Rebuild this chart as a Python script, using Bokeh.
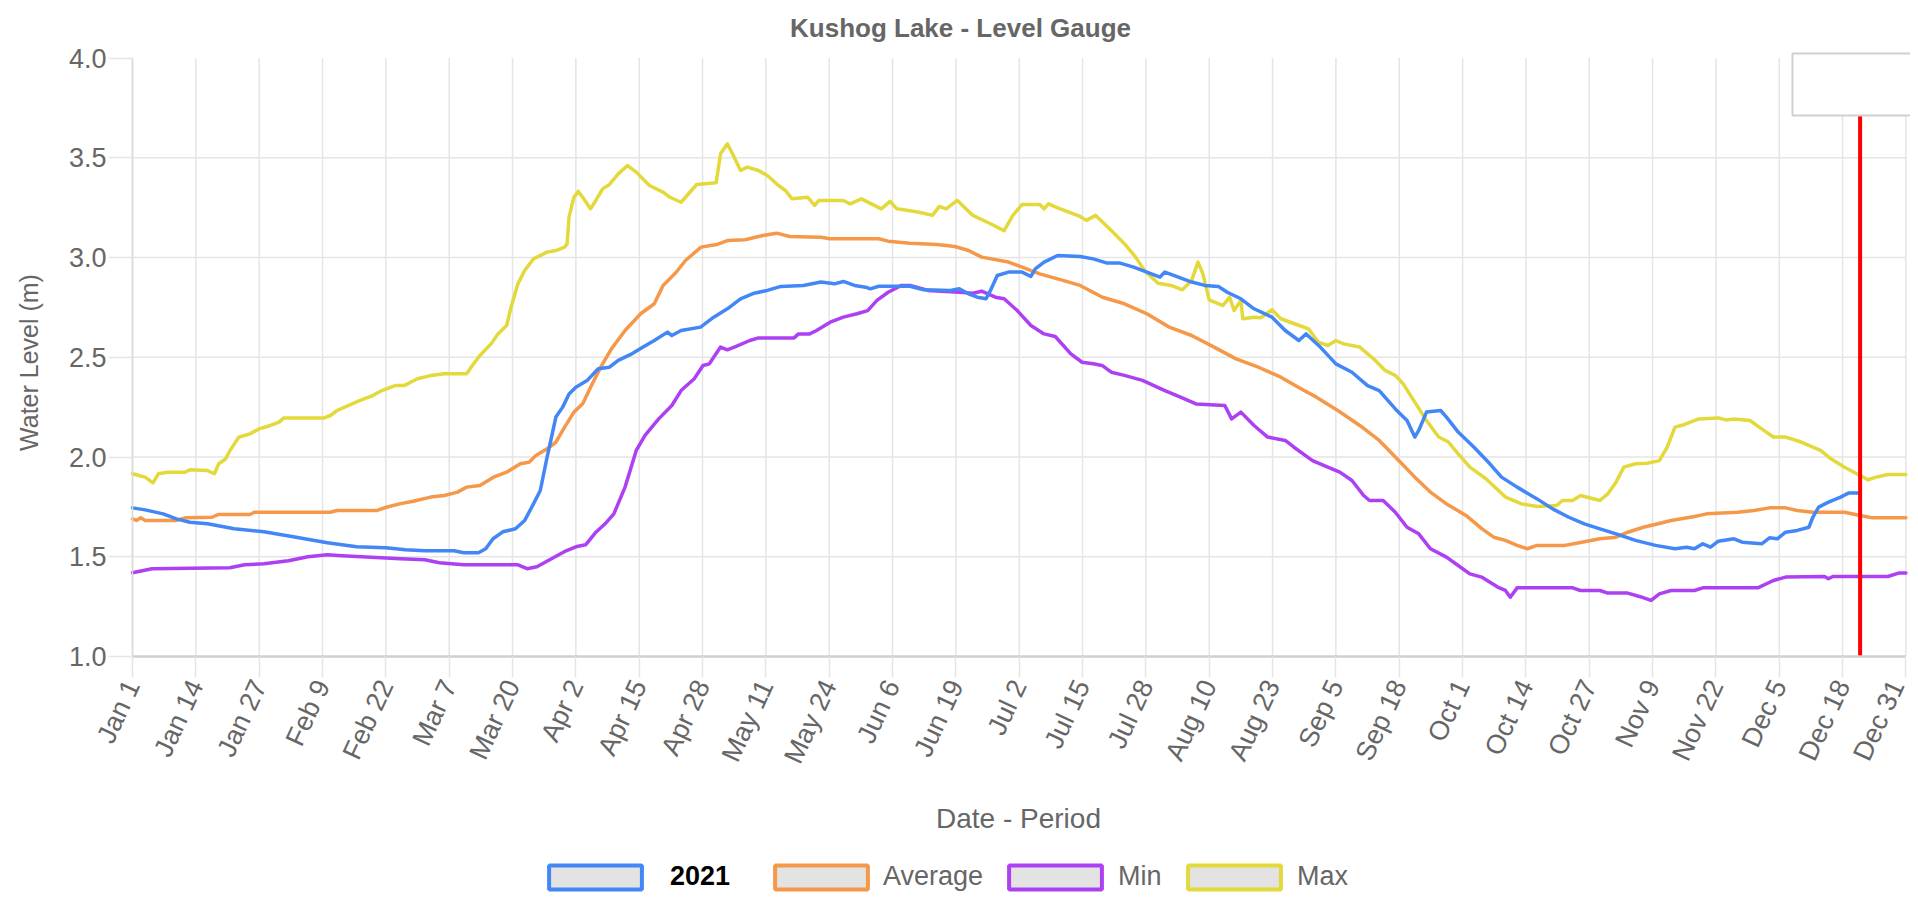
import math
from bokeh.plotting import figure
from bokeh.models import (Range1d, FixedTicker, Label, Legend, LegendItem, LinearAxis,
                          BoxAnnotation, ColumnDataSource, NumeralTickFormatter)
from bokeh.embed import file_html
from bokeh.resources import INLINE

# ---------------- data ----------------
TITLE = "Kushog Lake - Level Gauge"
X_TITLE = "Date - Period"
Y_TITLE = "Water Level (m)"

TICK_DAYS = [0, 13, 26, 39, 52, 65, 78, 91, 104, 117, 130, 143, 156, 169, 182,
             195, 208, 221, 234, 247, 260, 273, 286, 299, 312, 325, 338, 351, 364]
TICK_LABELS = ["Jan 1", "Jan 14", "Jan 27", "Feb 9", "Feb 22", "Mar 7", "Mar 20",
               "Apr 2", "Apr 15", "Apr 28", "May 11", "May 24", "Jun 6", "Jun 19",
               "Jul 2", "Jul 15", "Jul 28", "Aug 10", "Aug 23", "Sep 5", "Sep 18",
               "Oct 1", "Oct 14", "Oct 27", "Nov 9", "Nov 22", "Dec 5", "Dec 18", "Dec 31"]
Y_TICKS = [1.0, 1.5, 2.0, 2.5, 3.0, 3.5, 4.0]

SERIES_NAMES = ["2021", "Average", "Min", "Max"]
SERIES_COLORS = ["#4287f5", "#f5984a", "#ad40f2", "#e3d93b"]

YEAR_DAYS = [0, 2.6, 6.3, 9, 11.8, 15.4, 20.9, 27, 33, 40, 46, 52, 56, 60, 66, 68, 71,
             72.5, 74, 76, 78.6, 80.5, 82.3, 83.7, 85.1, 86, 86.9, 88.3, 89.6, 91, 93.3,
             95.6, 97.9, 99.7, 102.5, 104.8, 107.1, 109.8, 110.7, 112.6, 116.6, 119.3,
             122.1, 124.8, 127.6, 130.3, 133.1, 137.7, 141.3, 144.1, 145.9, 148.2, 150.5,
             151.4, 153.2, 159.6, 162.4, 167.9, 169.7, 171.6, 173.4, 175.2, 176.1, 177.5,
             179.8, 182.6, 184.4, 185.3, 187.1, 189.9, 194.5, 197.2, 199.9, 202.7, 205.5,
             208.2, 210.9, 211.9, 213.7, 217.4, 220.1, 222.9, 224.7, 227.5, 230.2, 233.9,
             236.6, 239.4, 240.9, 243.8, 247, 250.3, 253.5, 255.9, 259.2, 261.6, 263.2,
             264, 265.6, 268.5, 269.7, 272.1, 275.3, 278.6, 281, 284.2, 288.3, 291.5,
             294.8, 298, 301.2, 304.5, 308.5, 312.6, 316.6, 319, 320.6, 322.3, 323.9,
             325.5, 328.7, 330.4, 334.4, 336, 337.6, 339.3, 341.7, 344.1, 344.9, 346.1,
             348.1, 350.6, 352.2, 354.2]
YEAR_VALUES = [1.745, 1.735, 1.715, 1.69, 1.673, 1.665, 1.64, 1.625, 1.6, 1.57, 1.55,
               1.545, 1.535, 1.53, 1.53, 1.52, 1.52, 1.54, 1.59, 1.625, 1.64, 1.682,
               1.765, 1.832, 1.999, 2.099, 2.2, 2.25, 2.316, 2.35, 2.383, 2.442, 2.45,
               2.484, 2.517, 2.551, 2.584, 2.626, 2.609, 2.634, 2.651, 2.701, 2.743,
               2.793, 2.821, 2.835, 2.855, 2.86, 2.877, 2.868, 2.88, 2.86, 2.851, 2.843,
               2.856, 2.856, 2.838, 2.835, 2.843, 2.818, 2.801, 2.793, 2.835, 2.91,
               2.927, 2.927, 2.905, 2.943, 2.977, 3.01, 3.005, 2.993, 2.973, 2.972,
               2.952, 2.927, 2.902, 2.927, 2.91, 2.877, 2.86, 2.855, 2.826, 2.793,
               2.743, 2.701, 2.634, 2.584, 2.617, 2.551, 2.467, 2.425, 2.358, 2.333,
               2.241, 2.183, 2.1, 2.133, 2.225, 2.233, 2.2, 2.125, 2.05, 1.966, 1.899,
               1.849, 1.79, 1.74, 1.698, 1.665, 1.64, 1.615, 1.582, 1.557, 1.54, 1.548,
               1.54, 1.565, 1.548, 1.578, 1.59, 1.573, 1.565, 1.595, 1.59, 1.623,
               1.632, 1.648, 1.698, 1.749, 1.774, 1.799, 1.819, 1.819]

AVG_DAYS = [0, 0.8, 1.7, 2.6, 9, 10.8, 16.3, 17.7, 24.1, 25, 40.6, 42, 50.2, 52.1, 54.8,
            57.6, 61.2, 64, 66.7, 68.6, 71.3, 74.1, 76.8, 79.6, 81.4, 82.8, 85.1, 86.9,
            88.7, 90.6, 92.4, 94.2, 96.1, 98.3, 101.1, 104.3, 107.1, 108.9, 111.6, 113.5,
            116.7, 119.9, 122.1, 125.7, 129.4, 132.2, 134.9, 141.3, 143.2, 153.2, 155.1,
            159.6, 165.1, 168.8, 171.6, 174.3, 179.8, 182.6, 186.2, 189.9, 194.5, 199.1,
            203.6, 208.2, 212.8, 217.4, 222, 226.5, 231.1, 235.7, 240, 243, 247.4, 251.9,
            255.9, 259.9, 263.2, 266.4, 269.7, 273.7, 277, 279.4, 281.8, 284.2, 286.3,
            288.3, 294, 296.4, 301.2, 304.5, 306.9, 310.1, 312.5, 315.8, 320.6, 323.1,
            329.5, 332.8, 336, 339.3, 341.7, 344.9, 351.4, 354.6, 357.1, 364]
AVG_VALUES = [1.69, 1.682, 1.695, 1.682, 1.682, 1.695, 1.698, 1.712, 1.712, 1.723, 1.723,
              1.732, 1.732, 1.748, 1.765, 1.778, 1.799, 1.807, 1.824, 1.849, 1.857, 1.899,
              1.924, 1.966, 1.974, 2.008, 2.041, 2.074, 2.15, 2.225, 2.267, 2.358, 2.45,
              2.542, 2.634, 2.718, 2.768, 2.86, 2.926, 2.985, 3.052, 3.065, 3.085, 3.089,
              3.11, 3.122, 3.105, 3.102, 3.094, 3.094, 3.082, 3.072, 3.065, 3.055, 3.035,
              3.002, 2.977, 2.952, 2.918, 2.893, 2.86, 2.801, 2.768, 2.718, 2.651, 2.609,
              2.551, 2.492, 2.45, 2.4, 2.34, 2.3, 2.233, 2.158, 2.083, 1.982, 1.899,
              1.824, 1.765, 1.707, 1.64, 1.598, 1.582, 1.557, 1.54, 1.557, 1.557, 1.568,
              1.59, 1.598, 1.623, 1.648, 1.662, 1.682, 1.702, 1.715, 1.723, 1.732, 1.745,
              1.745, 1.732, 1.723, 1.723, 1.707, 1.695, 1.695]

MIN_DAYS = [0, 2, 4, 20, 23, 27, 32, 36, 40, 43, 47, 55, 60, 63, 68, 79, 81, 83, 86, 89,
            91, 93, 95, 97, 98.8, 101.1, 103.4, 105.2, 108, 110.7, 112.6, 115.3, 117.1,
            118.4, 120.7, 122.1, 123.9, 126.7, 128.5, 135.8, 136.7, 139, 140.4, 143.2,
            145.9, 148.7, 150.9, 152.8, 155.1, 157.8, 159.6, 163.3, 169.7, 172.5, 174.3,
            177.1, 178.9, 181.6, 184.4, 187.1, 189.4, 192.6, 194.9, 197.2, 199, 200.9,
            203.6, 207.3, 211.9, 215.1, 218.3, 224.2, 225.6, 227.5, 230.2, 233, 236.6,
            238.4, 242.2, 244.6, 247.8, 250.3, 252.7, 253.9, 256.7, 259.2, 261.6, 264,
            266.4, 269.7, 272.1, 274.5, 276.9, 280.2, 281.8, 282.8, 284.2, 295.6, 297.2,
            301.2, 302.8, 306.9, 309.3, 311.7, 313.4, 315.8, 320.6, 322.3, 333.6, 336.8,
            339.3, 347.3, 348.1, 349, 360.3, 362.5, 364]
MIN_VALUES = [1.42, 1.43, 1.44, 1.445, 1.46, 1.465, 1.48, 1.5, 1.51, 1.505, 1.5, 1.49,
              1.485, 1.47, 1.46, 1.46, 1.44, 1.45, 1.49, 1.53, 1.55, 1.56, 1.62, 1.665,
              1.715, 1.849, 2.033, 2.108, 2.191, 2.258, 2.333, 2.392, 2.459, 2.467, 2.551,
              2.537, 2.554, 2.584, 2.597, 2.597, 2.617, 2.617, 2.634, 2.676, 2.701, 2.718,
              2.734, 2.785, 2.826, 2.86, 2.86, 2.835, 2.826, 2.821, 2.831, 2.801, 2.793,
              2.734, 2.659, 2.617, 2.604, 2.517, 2.475, 2.467, 2.459, 2.425, 2.409, 2.384,
              2.333, 2.3, 2.266, 2.258, 2.191, 2.225, 2.158, 2.1, 2.083, 2.049, 1.982,
              1.957, 1.924, 1.882, 1.807, 1.782, 1.782, 1.723, 1.648, 1.615, 1.54, 1.498,
              1.456, 1.414, 1.398, 1.348, 1.331, 1.297, 1.344, 1.344, 1.331, 1.331, 1.318,
              1.318, 1.301, 1.281, 1.314, 1.331, 1.331, 1.344, 1.344, 1.381, 1.398, 1.401,
              1.39, 1.401, 1.401, 1.418, 1.418]

MAX_DAYS = [0, 2.6, 4.2, 5.3, 7.2, 10.8, 11.8, 15.4, 16.8, 17.7, 19.1, 20, 21.8, 24.1, 26,
            28.3, 30.1, 31, 39.2, 40.6, 42, 46.6, 49.3, 51.2, 53.9, 55.7, 58.5, 61.2, 64,
            68.6, 69.5, 71.3, 73.6, 75, 76.8, 77.7, 79.1, 80.5, 82.3, 85.1, 86.9, 88.7,
            89.2, 89.6, 90.6, 91.5, 92.4, 94, 95.1, 96.5, 97.9, 99.7, 101.6, 103.4, 106.1,
            108.9, 110.3, 112.6, 115.8, 119.8, 120.7, 122.1, 123.5, 124.8, 126.2, 128.5,
            130.3, 132.6, 134, 135.4, 138.6, 140, 140.9, 145.9, 147.3, 149.6, 153.7, 155.5,
            156.9, 161.5, 164.2, 165.6, 167, 169.3, 172.5, 176.1, 178.9, 180.7, 182.6,
            186.2, 187.1, 188, 189.9, 194.5, 195.8, 197.7, 200.9, 203.6, 205.9, 207.7,
            210.5, 213.2, 215.5, 217.4, 218.7, 219.7, 221, 223.8, 225.2, 226.1, 227.5,
            227.9, 230.2, 231.6, 233.9, 235.7, 238.5, 241.4, 243.4, 245.4, 247, 248.6,
            251.9, 253.1, 255.1, 257.1, 259.2, 260.8, 263.2, 265.6, 268.1, 270.1, 272.1,
            274.5, 277.8, 281.8, 285.1, 288.3, 292.3, 293.5, 295.6, 297.2, 301.2, 302.8,
            304.5, 306.1, 308.5, 310.9, 313.4, 315, 316.6, 318.6, 321.5, 325.5, 327.1,
            328.7, 332, 334.4, 336.8, 339.3, 342.5, 346.5, 348.6, 351.4, 354.6, 356.2,
            357.9, 360.3, 364]
MAX_VALUES = [1.916, 1.899, 1.87, 1.916, 1.924, 1.924, 1.936, 1.932, 1.916, 1.966, 1.99,
              2.032, 2.099, 2.116, 2.141, 2.158, 2.175, 2.195, 2.195, 2.208, 2.233, 2.283,
              2.308, 2.333, 2.358, 2.358, 2.392, 2.408, 2.417, 2.417, 2.45, 2.509, 2.567,
              2.617, 2.659, 2.751, 2.868, 2.935, 2.993, 3.027, 3.035, 3.052, 3.068, 3.202,
              3.302, 3.331, 3.302, 3.244, 3.286, 3.344, 3.366, 3.419, 3.461, 3.428, 3.361,
              3.328, 3.302, 3.277, 3.366, 3.375, 3.52, 3.57, 3.503, 3.436, 3.453, 3.436,
              3.411, 3.361, 3.336, 3.294, 3.302, 3.261, 3.286, 3.286, 3.269, 3.294, 3.244,
              3.281, 3.244, 3.227, 3.211, 3.256, 3.244, 3.286, 3.211, 3.169, 3.135, 3.211,
              3.266, 3.266, 3.244, 3.269, 3.249, 3.206, 3.186, 3.211, 3.135, 3.069, 3.002,
              2.935, 2.871, 2.86, 2.838, 2.885, 2.977, 2.918, 2.788, 2.759, 2.801, 2.734,
              2.785, 2.693, 2.701, 2.698, 2.738, 2.693, 2.668, 2.642, 2.576, 2.559, 2.584,
              2.567, 2.551, 2.526, 2.484, 2.434, 2.409, 2.367, 2.275, 2.183, 2.1, 2.075,
              2.016, 1.949, 1.891, 1.799, 1.765, 1.752, 1.757, 1.782, 1.782, 1.807, 1.782,
              1.815, 1.874, 1.949, 1.966, 1.969, 1.982, 2.049, 2.15, 2.163, 2.191, 2.196,
              2.186, 2.191, 2.183, 2.141, 2.1, 2.1, 2.075, 2.033, 1.991, 1.949, 1.907,
              1.886, 1.899, 1.912, 1.912]

MARKER_DAY = 354.6          # "today" marker (Dec 21)

# ---------------- layout (pixels) ----------------
W, H = 1910, 894
FRAME_LEFT, FRAME_TOP = 132.0, 57.5     # pixel position of (Jan 1, 4.0)
PX_PER_DAY, PX_PER_M = 4.872, 199.5


def dx(px):
    return (px - FRAME_LEFT) / PX_PER_DAY


def dy(py):
    return Y_TICKS[-1] - (py - FRAME_TOP) / PX_PER_M


FONT = "Liberation Sans"
GREY = "#666666"
GRID = "#e5e5e5"

p = figure(width=W, height=H, x_range=Range1d(dx(0), dx(W)), y_range=Range1d(dy(H), dy(0)),
           output_backend="svg", toolbar_location=None,
           x_axis_location=None, y_axis_location=None,
           min_border_left=0, min_border_right=0, min_border_top=0, min_border_bottom=0)
p.outline_line_color = None
p.background_fill_color = "white"
p.border_fill_color = "white"
p.grid.visible = False

# grid lines (inside the data area only)
x0, x1 = TICK_DAYS[0], TICK_DAYS[-1]
y0, y1 = Y_TICKS[0], Y_TICKS[-1]
vg = ColumnDataSource(dict(x=TICK_DAYS, ya=[y0] * len(TICK_DAYS), yb=[y1] * len(TICK_DAYS)))
p.segment("x", "ya", "x", "yb", source=vg, line_color=GRID, line_width=1.5)
hy = Y_TICKS[1:-1]
hg = ColumnDataSource(dict(y=hy, xa=[x0] * len(hy), xb=[x1] * len(hy)))
p.segment("xa", "y", "xb", "y", source=hg, line_color=GRID, line_width=1.5)

# x axis
xa = LinearAxis(fixed_location=y0, bounds=(x0, x1))
xa.ticker = FixedTicker(ticks=TICK_DAYS)
xa.major_label_overrides = {d: lab for d, lab in zip(TICK_DAYS, TICK_LABELS)}
xa.major_label_orientation = math.radians(65)
xa.major_label_text_font = FONT
xa.major_label_text_font_size = "27px"
xa.major_label_text_color = GREY
xa.major_label_standoff = 4
xa.major_tick_in = 0
xa.major_tick_out = 21
xa.major_tick_line_color = GRID
xa.major_tick_line_width = 1.5
xa.minor_tick_out = 0
xa.minor_tick_in = 0
xa.axis_line_color = "#cfcfcf"
xa.axis_line_width = 2.5
p.add_layout(xa, "below")

# y axis
ya = LinearAxis(fixed_location=x0, bounds=(y0, y1))
ya.ticker = FixedTicker(ticks=Y_TICKS)
ya.formatter = NumeralTickFormatter(format="0.0")
ya.major_label_text_font = FONT
ya.major_label_text_font_size = "27px"
ya.major_label_text_color = GREY
ya.major_label_standoff = 2
ya.major_tick_in = 0
ya.major_tick_out = 24
ya.major_tick_line_color = GRID
ya.major_tick_line_width = 1.5
ya.minor_tick_out = 0
ya.minor_tick_in = 0
ya.axis_line_color = "#d9d9d9"
ya.axis_line_width = 1.5
p.add_layout(ya, "left")

# series (Max drawn first, 2021 on top)
series = [(YEAR_DAYS, YEAR_VALUES), (AVG_DAYS, AVG_VALUES),
          (MIN_DAYS, MIN_VALUES), (MAX_DAYS, MAX_VALUES)]
for i in reversed(range(4)):
    days, vals = series[i]
    src = ColumnDataSource(dict(x=days, y=vals))
    p.line("x", "y", source=src, line_color=SERIES_COLORS[i], line_width=3.5,
           line_join="round", line_cap="round")

# today marker with (empty) tooltip box
msrc = ColumnDataSource(dict(x0=[MARKER_DAY], y0=[y0], x1=[MARKER_DAY], y1=[y1]))
p.segment("x0", "y0", "x1", "y1", source=msrc, line_color="#ff0000", line_width=4)
p.add_layout(BoxAnnotation(left=dx(1792), right=dx(W + 60), top=dy(53), bottom=dy(115),
                           fill_color="white", fill_alpha=1.0,
                           line_color="#d0d0d0", line_width=2, line_alpha=1.0))

# titles
p.add_layout(Label(x=dx(960), y=dy(27), text=TITLE, text_align="center",
                   text_baseline="alphabetic", text_font=FONT, text_font_size="26px",
                   text_font_style="bold", text_color=GREY))
p.add_layout(Label(x=dx(1018), y=dy(818), text=X_TITLE, text_align="center",
                   text_baseline="middle", text_font=FONT, text_font_size="28px",
                   text_color=GREY))
p.add_layout(Label(x=dx(28), y=dy(362), text=Y_TITLE, text_align="center",
                   text_baseline="middle", angle=math.pi / 2, text_font=FONT,
                   text_font_size="25px", text_color=GREY))

# legend: boxes with grey fill and coloured border
nan = float("nan")
GLYPH_W, GLYPH_H = 116, 30
legend_left_px = [537, 763, 997, 1176]
standoffs = [17, 4, 5, 5]
for i, name in enumerate(SERIES_NAMES):
    r = p.quad(left=[nan], right=[nan], top=[nan], bottom=[nan], fill_color="#e3e3e3",
               line_color=SERIES_COLORS[i], line_width=4)
    leg = Legend(items=[LegendItem(label=name, renderers=[r])],
                 location=(legend_left_px[i], 2), orientation="horizontal",
                 glyph_width=GLYPH_W, glyph_height=GLYPH_H, label_height=GLYPH_H,
                 label_standoff=standoffs[i], padding=0, margin=0, spacing=0,
                 border_line_color=None, background_fill_alpha=0,
                 label_text_font=FONT, label_text_font_size="27px",
                 label_text_color="black" if i == 0 else GREY,
                 label_text_font_style="bold" if i == 0 else "normal")
    p.add_layout(leg, "center")

open("out.html", "w").write(file_html(p, INLINE))
